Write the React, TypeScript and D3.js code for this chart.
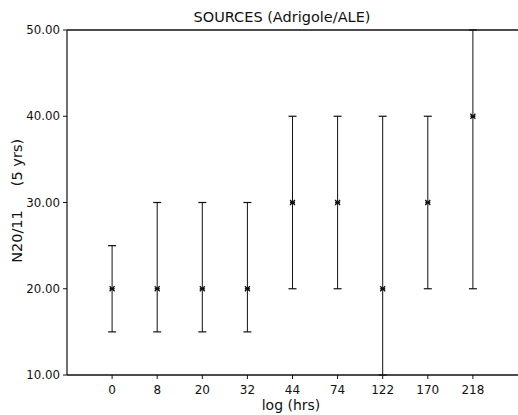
import React from "react";
import * as d3 from "d3";

const categories = ["0", "8", "20", "32", "44", "74", "122", "170", "218"];
const means = [20, 20, 20, 20, 30, 30, 20, 30, 40];
const lows = [15, 15, 15, 15, 20, 20, 10, 20, 20];
const highs = [25, 30, 30, 30, 40, 40, 40, 40, 50];
const yTicks = [10, 20, 30, 40, 50];

const W = 518, H = 415;
const L = 67, R = 518, T = 30, B = 375;

export default function App() {
  const x = d3.scalePoint<string>().domain(categories).range([L, R]).padding(1);
  const y = d3.scaleLinear().domain([10, 50]).range([B, T]);
  const font = "'DejaVu Sans', Verdana, sans-serif";
  return (
    <svg width={W} height={H} style={{ position: "absolute", left: 0, top: 0, background: "#fff" }}>
      <text x={282} y={22} textAnchor="middle" fontFamily={font} fontSize={14.5} fill="#111">SOURCES (Adrigole/ALE)</text>
      <line x1={L} x2={R} y1={T} y2={T} stroke="#111" strokeWidth={1.3} />
      <line x1={L} x2={R} y1={B} y2={B} stroke="#111" strokeWidth={1.3} />
      <line x1={L} x2={L} y1={T} y2={B} stroke="#111" strokeWidth={1.2} />
      {yTicks.map((t) => (
        <g key={t}>
          <line x1={L - 4} x2={L} y1={y(t)} y2={y(t)} stroke="#111" />
          <text x={L - 7} y={y(t) + 4} textAnchor="end" fontFamily={font} fontSize={11.8} fill="#111">{t.toFixed(2)}</text>
        </g>
      ))}
      {categories.map((c) => (
        <g key={c}>
          <line x1={x(c)} x2={x(c)} y1={B} y2={B + 4} stroke="#111" />
          <text x={x(c)} y={B + 19} textAnchor="middle" fontFamily={font} fontSize={12} fill="#111">{c}</text>
        </g>
      ))}
      {categories.map((c, i) => {
        const cx = x(c) as number;
        return (
          <g key={"e" + c} stroke="#111">
            <line x1={cx} x2={cx} y1={y(highs[i])} y2={y(lows[i])} strokeWidth={1} />
            <line x1={cx - 4} x2={cx + 4} y1={y(highs[i])} y2={y(highs[i])} strokeWidth={1.2} />
            <line x1={cx - 4} x2={cx + 4} y1={y(lows[i])} y2={y(lows[i])} strokeWidth={1.2} />
            <path d={`M${cx - 2.5},${y(means[i]) - 2.5}L${cx + 2.5},${y(means[i]) + 2.5}M${cx + 2.5},${y(means[i]) - 2.5}L${cx - 2.5},${y(means[i]) + 2.5}M${cx - 2.5},${y(means[i])}L${cx + 2.5},${y(means[i])}`} strokeWidth={1.3} />
          </g>
        );
      })}
      <text transform={`translate(22,236.5) rotate(-90)`} textAnchor="middle" fontFamily={font} fontSize={14.5} fill="#111">N20/11</text>
      <text transform={`translate(22,162.5) rotate(-90)`} textAnchor="middle" fontFamily={font} fontSize={14.5} fill="#111">(5 yrs)</text>
      <text x={291} y={410} textAnchor="middle" fontFamily={font} fontSize={14} fill="#111">log (hrs)</text>
    </svg>
  );
}
